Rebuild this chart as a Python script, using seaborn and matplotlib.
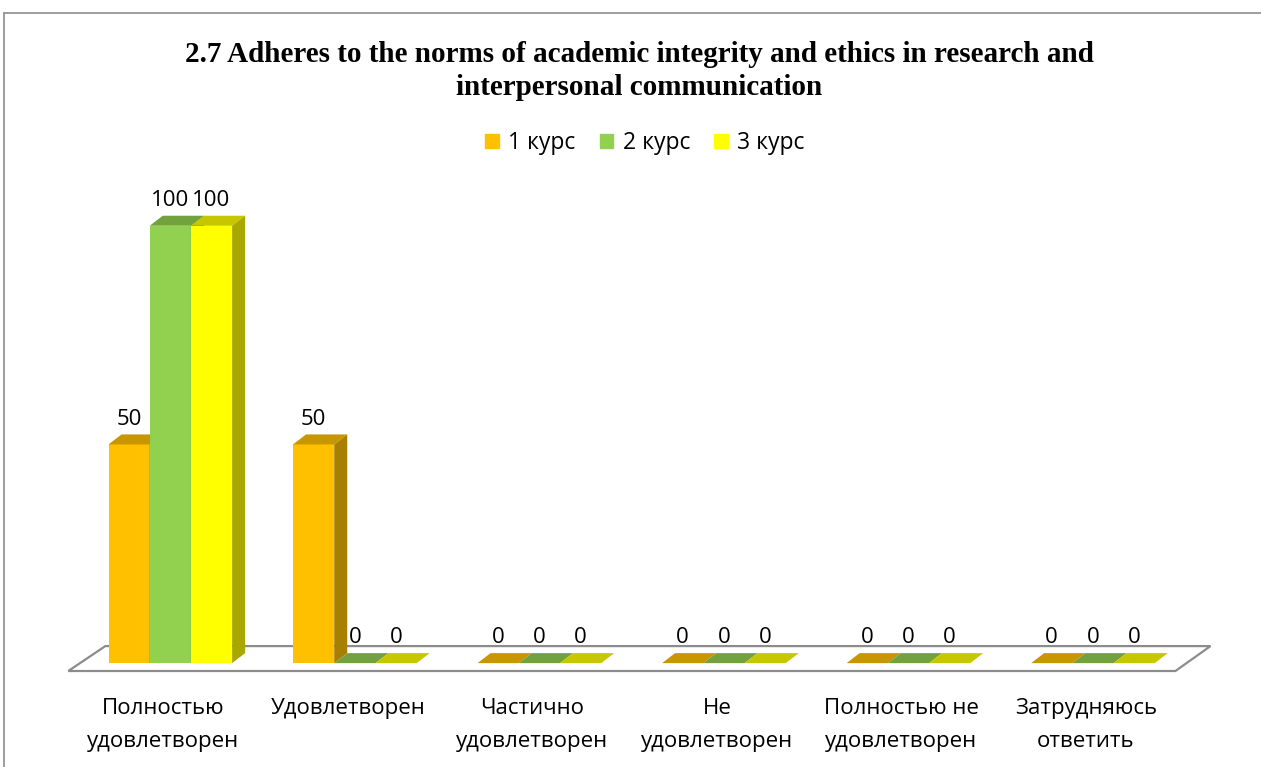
import numpy as np
import matplotlib.pyplot as plt
import seaborn as sns
import pandas as pd
from matplotlib.patches import Polygon
from matplotlib.lines import Line2D
from matplotlib.colors import to_rgb
from matplotlib.transforms import ScaledTranslation

categories = ['Полностью\nудовлетворен', 'Удовлетворен', 'Частично\nудовлетворен',
              'Не\nудовлетворен', 'Полностью не\nудовлетворен', 'Затрудняюсь\nответить']
series = ['1 курс', '2 курс', '3 курс']
kurs1 = [50, 50, 0, 0, 0, 0]
kurs2 = [100, 0, 0, 0, 0, 0]
kurs3 = [100, 0, 0, 0, 0, 0]
colors = ['#FFC000', '#92D050', '#FFFF00']

data = pd.DataFrame({
    'cat': categories * 3,
    'kurs': [s for s in series for _ in categories],
    'val': kurs1 + kurs2 + kurs3,
})

sns.set_style('white')
plt.rcParams['font.family'] = ['Open Sans', 'DejaVu Sans']
plt.rcParams['text.color'] = 'black'
plt.rcParams['xtick.color'] = 'black'

fig = plt.figure(figsize=(12.61, 7.67), dpi=100)
ax = fig.add_axes([0.0619, 0.1069, 0.878, 0.6558])

sns.barplot(x='cat', y='val', hue='kurs', data=data, palette=colors,
            width=0.67, saturation=1, ax=ax, legend=False)
bars = sorted(list(ax.patches), key=lambda p: p.get_x())

ax.set_xlim(-0.5, 5.5)
ax.set_ylim(-5, 110)

# depth of the fake 3d effect, in data units
dx = 13 / 184.5
dy = 10 / 4.37

def shade(c, f):
    return tuple(v * f for v in to_rgb(c))

# floor
floor = Polygon([(-0.553, -1.8), (5.447, -1.8), (5.637, 3.9), (-0.352, 3.9)],
                closed=True, facecolor='white', edgecolor='#8c8c8c', lw=1.6,
                zorder=1, clip_on=False)
ax.add_patch(floor)

for k, b in enumerate(bars):
    x0 = b.get_x()
    w = b.get_width()
    h = b.get_height()
    c = b.get_facecolor()
    z = 3 + k * 0.1
    b.set_zorder(z)
    b.set_edgecolor('none')
    top = Polygon([(x0, h), (x0 + w, h), (x0 + w + dx, h + dy), (x0 + dx, h + dy)],
                  closed=True, facecolor=shade(c, 0.78), edgecolor='none', zorder=z + 0.05)
    side = Polygon([(x0 + w, 0), (x0 + w + dx, dy), (x0 + w + dx, h + dy), (x0 + w, h)],
                   closed=True, facecolor=shade(c, 0.66), edgecolor='none', zorder=z + 0.05)
    ax.add_patch(top)
    if h > 0:
        ax.add_patch(side)
    ax.text(x0 + w / 2, h + 5.8, f'{h:.0f}', ha='center', va='center',
            fontsize=16, zorder=10)

ax.set_xlabel('')
ax.set_ylabel('')
ax.set_yticks([])
ax.tick_params(axis='x', length=0, pad=9, labelsize=16)
shift = ScaledTranslation(-7 / 100, 0, fig.dpi_scale_trans)
for lbl in ax.get_xticklabels():
    lbl.set_linespacing(1.75)
    lbl.set_transform(lbl.get_transform() + shift)
sns.despine(ax=ax, left=True, bottom=True)

handles = [plt.Rectangle((0, 0), 1, 1, color=c) for c in colors]
fig.legend(handles, series, loc='center', bbox_to_anchor=(645 / 1261, 1 - 143 / 767),
           ncol=3, frameon=False, fontsize=16.5, handlelength=0.6, handleheight=0.6,
           handletextpad=0.4, columnspacing=1.05)

fig.text(0.507, 1 - 71 / 767,
         '2.7 Adheres to the norms of academic integrity and ethics in research and\ninterpersonal communication',
         ha='center', va='center', fontsize=21, fontweight='bold',
         family='Liberation Serif', linespacing=1.25)

# chart frame
fig.add_artist(Line2D([4 / 1261, 1], [1 - 13 / 767, 1 - 13 / 767], color='#8c8c8c', lw=1.2))
fig.add_artist(Line2D([4 / 1261, 4 / 1261], [0, 1 - 13 / 767], color='#8c8c8c', lw=1.2))

fig.savefig('out.png', dpi=100)
